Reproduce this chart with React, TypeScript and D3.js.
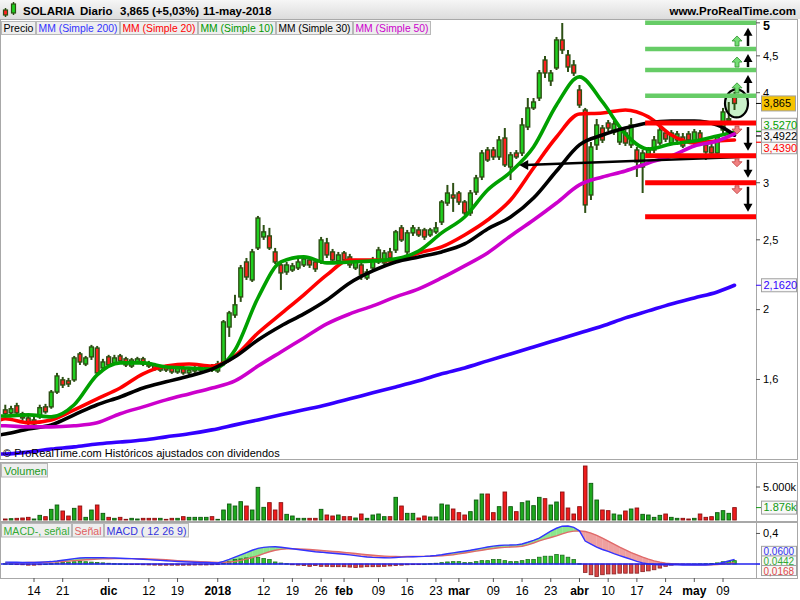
import React from 'react';
import * as d3 from 'd3';

// ---- SOLARIA daily bars, 7-nov-2017 .. 11-may-2018 ----
const opens = [
  1.452, 1.438, 1.471, 1.434, 1.415, 1.388, 1.420, 1.466, 1.466, 1.537,
  1.598, 1.593, 1.598, 1.736, 1.681, 1.720, 1.769, 1.660, 1.720, 1.687,
  1.725, 1.709, 1.670, 1.692, 1.709, 1.687, 1.676, 1.649, 1.665, 1.660,
  1.639, 1.660, 1.634, 1.644, 1.649, 1.660, 1.670, 1.644, 1.687, 1.892,
  1.966, 2.083, 2.329, 2.199, 2.436, 2.523, 2.531, 2.405, 2.307, 2.256,
  2.270, 2.285, 2.307, 2.344, 2.329, 2.329, 2.475, 2.405, 2.337, 2.397,
  2.367, 2.285, 2.307, 2.213, 2.285, 2.329, 2.322, 2.405, 2.420, 2.597,
  2.405, 2.556, 2.580, 2.580, 2.539, 2.564, 2.646, 2.812, 2.885, 2.903,
  2.821, 2.724, 2.912, 3.056, 3.331, 3.331, 3.258, 3.461, 3.155, 3.299,
  3.299, 3.585, 3.810, 3.933, 4.440, 4.153, 4.329, 4.734, 4.512, 4.370,
  4.035, 3.785, 2.885, 3.385, 3.573, 3.631, 3.528, 3.417, 3.517, 3.385,
  3.331, 3.155, 3.279, 3.331, 3.406, 3.517, 3.406, 3.439, 3.472, 3.506,
  3.406, 3.517, 3.385, 3.363, 3.299, 3.550, 3.660, 3.946,
];
const highs = [
  1.476, 1.471, 1.485, 1.443, 1.429, 1.420, 1.476, 1.480, 1.547, 1.634,
  1.613, 1.608, 1.725, 1.747, 1.725, 1.787, 1.781, 1.709, 1.731, 1.731,
  1.736, 1.720, 1.714, 1.720, 1.720, 1.698, 1.687, 1.676, 1.676, 1.670,
  1.670, 1.670, 1.660, 1.670, 1.676, 1.681, 1.681, 1.698, 1.935, 1.992,
  2.097, 2.307, 2.359, 2.428, 2.698, 2.621, 2.597, 2.436, 2.322, 2.329,
  2.322, 2.352, 2.374, 2.367, 2.344, 2.523, 2.515, 2.428, 2.405, 2.412,
  2.390, 2.352, 2.329, 2.278, 2.367, 2.444, 2.420, 2.436, 2.580, 2.621,
  2.580, 2.621, 2.605, 2.597, 2.597, 2.646, 2.839, 2.979, 2.998, 2.922,
  2.839, 2.931, 3.076, 3.331, 3.363, 3.363, 3.483, 3.573, 3.310, 3.331,
  3.689, 3.933, 3.933, 4.301, 4.498, 4.301, 4.780, 4.998, 4.585, 4.440,
  4.100, 3.810, 3.417, 3.678, 3.608, 3.666, 3.654, 3.585, 3.550, 3.689,
  3.363, 3.331, 3.363, 3.483, 3.585, 3.550, 3.550, 3.539, 3.517, 3.539,
  3.562, 3.550, 3.439, 3.395, 3.495, 3.810, 3.883, 4.009,
];
const lows = [
  1.424, 1.429, 1.429, 1.402, 1.380, 1.371, 1.411, 1.434, 1.457, 1.528,
  1.557, 1.562, 1.588, 1.676, 1.670, 1.703, 1.624, 1.649, 1.665, 1.676,
  1.681, 1.665, 1.660, 1.681, 1.670, 1.660, 1.644, 1.639, 1.639, 1.629,
  1.629, 1.624, 1.624, 1.634, 1.639, 1.649, 1.639, 1.634, 1.670, 1.833,
  1.948, 2.050, 2.199, 2.185, 2.420, 2.499, 2.420, 2.314, 2.130, 2.235,
  2.256, 2.270, 2.292, 2.285, 2.256, 2.314, 2.359, 2.329, 2.322, 2.329,
  2.285, 2.270, 2.199, 2.199, 2.263, 2.314, 2.307, 2.344, 2.397, 2.483,
  2.382, 2.531, 2.523, 2.499, 2.523, 2.548, 2.621, 2.786, 2.733, 2.795,
  2.707, 2.698, 2.885, 3.026, 3.206, 3.226, 3.226, 3.155, 3.026, 3.237,
  3.268, 3.550, 3.785, 3.895, 4.193, 4.087, 4.301, 4.527, 4.274, 4.220,
  3.810, 2.724, 2.839, 3.331, 3.406, 3.539, 3.495, 3.385, 3.374, 3.352,
  3.056, 2.903, 3.247, 3.299, 3.385, 3.417, 3.385, 3.385, 3.352, 3.406,
  3.374, 3.406, 3.226, 3.279, 3.268, 3.517, 3.640, 3.785,
];
const closes = [
  1.434, 1.457, 1.438, 1.415, 1.393, 1.406, 1.462, 1.443, 1.537, 1.618,
  1.572, 1.577, 1.714, 1.692, 1.714, 1.775, 1.634, 1.692, 1.676, 1.714,
  1.698, 1.676, 1.703, 1.709, 1.681, 1.670, 1.654, 1.665, 1.649, 1.639,
  1.660, 1.634, 1.649, 1.660, 1.665, 1.670, 1.649, 1.681, 1.923, 1.979,
  2.031, 2.285, 2.220, 2.405, 2.680, 2.564, 2.436, 2.329, 2.249, 2.307,
  2.300, 2.329, 2.352, 2.307, 2.278, 2.499, 2.382, 2.344, 2.382, 2.344,
  2.307, 2.329, 2.235, 2.256, 2.344, 2.420, 2.397, 2.359, 2.564, 2.499,
  2.556, 2.597, 2.539, 2.523, 2.580, 2.597, 2.821, 2.903, 2.857, 2.821,
  2.724, 2.903, 3.046, 3.299, 3.226, 3.258, 3.439, 3.176, 3.279, 3.258,
  3.608, 3.810, 3.883, 4.260, 4.260, 4.260, 4.734, 4.585, 4.343, 4.260,
  3.846, 2.795, 3.363, 3.608, 3.439, 3.573, 3.620, 3.550, 3.406, 3.608,
  3.206, 3.299, 3.331, 3.439, 3.550, 3.450, 3.517, 3.506, 3.374, 3.439,
  3.528, 3.439, 3.310, 3.299, 3.472, 3.761, 3.680, 3.865,
];
// volume in thousands of shares
const volumesK = [
  152, 202, 253, 303, 404, 152, 707, 505, 1616, 2273,
  1364, 606, 1768, 2121, 404, 1515, 2273, 1010, 404, 253,
  404, 101, 253, 152, 253, 253, 253, 253, 101, 253,
  253, 505, 404, 404, 404, 404, 505, 101, 1515, 2424,
  2121, 2778, 2121, 1515, 4949, 1919, 2626, 1515, 2626, 859,
  606, 253, 253, 253, 253, 1616, 758, 606, 758, 505,
  505, 303, 909, 253, 758, 909, 505, 505, 3434, 2121,
  1010, 1010, 303, 606, 455, 455, 2424, 2273, 1667, 1111,
  758, 1263, 3030, 3939, 3939, 1111, 2020, 4242, 2020, 1263,
  2626, 2879, 2172, 3434, 3232, 2273, 2727, 4242, 1818, 909,
  2020, 8181, 5555, 3030, 1515, 1414, 909, 758, 1364, 1667,
  1818, 859, 758, 404, 707, 909, 404, 253, 253, 152,
  253, 909, 404, 505, 1111, 1414, 1010, 1876,
];

// moving averages, read at these bar indices
const maBars = [-1, 0, 4, 8, 12, 16, 20, 24, 28, 32, 36, 40, 44, 48, 52, 56, 60, 64, 68, 72, 76, 80, 84, 88, 92, 96, 100, 104, 108, 112, 116, 120, 124, 127];
const sma200 = [1.261, 1.261, 1.269, 1.281, 1.290, 1.302, 1.310, 1.319, 1.332, 1.345, 1.362, 1.384, 1.406, 1.429, 1.452, 1.476, 1.504, 1.533, 1.562, 1.593, 1.629, 1.660, 1.698, 1.736, 1.775, 1.815, 1.856, 1.898, 1.948, 1.992, 2.037, 2.076, 2.116, 2.162];
const sma20 = [1.406, 1.411, 1.393, 1.406, 1.452, 1.504, 1.557, 1.629, 1.670, 1.681, 1.670, 1.725, 1.856, 1.973, 2.097, 2.235, 2.344, 2.344, 2.337, 2.397, 2.444, 2.539, 2.663, 2.839, 3.145, 3.472, 3.737, 3.749, 3.785, 3.702, 3.494, 3.406, 3.428, 3.439];
const sma10 = [1.424, 1.424, 1.429, 1.420, 1.476, 1.624, 1.687, 1.687, 1.665, 1.660, 1.654, 1.758, 2.076, 2.329, 2.367, 2.322, 2.329, 2.337, 2.352, 2.412, 2.556, 2.689, 2.931, 3.105, 3.363, 3.846, 4.207, 3.883, 3.505, 3.342, 3.396, 3.428, 3.483, 3.527];
const sma30 = [1.340, 1.344, 1.366, 1.384, 1.429, 1.476, 1.513, 1.557, 1.588, 1.618, 1.654, 1.720, 1.815, 1.898, 1.973, 2.063, 2.178, 2.263, 2.329, 2.367, 2.405, 2.467, 2.588, 2.689, 2.857, 3.115, 3.385, 3.494, 3.573, 3.631, 3.654, 3.654, 3.608, 3.4922];
const sma50 = [1.380, 1.380, 1.375, 1.375, 1.380, 1.393, 1.434, 1.466, 1.499, 1.528, 1.557, 1.593, 1.670, 1.747, 1.827, 1.911, 1.973, 2.024, 2.083, 2.137, 2.213, 2.300, 2.397, 2.531, 2.663, 2.812, 2.979, 3.056, 3.115, 3.196, 3.268, 3.374, 3.428, 3.506];

// MACD (12 26 9)
const macd = [
  0.025, 0.024, 0.023, 0.022, 0.021, 0.021, 0.024, 0.028, 0.032, 0.040,
  0.050, 0.060, 0.070, 0.078, 0.082, 0.083, 0.083, 0.082, 0.080, 0.078,
  0.076, 0.073, 0.070, 0.066, 0.062, 0.058, 0.053, 0.048, 0.043, 0.038,
  0.033, 0.029, 0.026, 0.023, 0.021, 0.019, 0.016, 0.014, 0.035, 0.060,
  0.090, 0.120, 0.150, 0.180, 0.205, 0.218, 0.225, 0.226, 0.220, 0.210,
  0.200, 0.190, 0.180, 0.170, 0.160, 0.155, 0.148, 0.141, 0.134, 0.127,
  0.120, 0.110, 0.100, 0.092, 0.087, 0.084, 0.082, 0.081, 0.085, 0.090,
  0.093, 0.095, 0.097, 0.100, 0.105, 0.112, 0.122, 0.134, 0.146, 0.157,
  0.168, 0.180, 0.194, 0.208, 0.222, 0.234, 0.243, 0.247, 0.248, 0.250,
  0.262, 0.285, 0.310, 0.340, 0.385, 0.430, 0.468, 0.495, 0.498, 0.480,
  0.435, 0.300, 0.260, 0.220, 0.190, 0.165, 0.135, 0.110, 0.085, 0.060,
  0.035, 0.015, 0.000, -0.006, -0.009, -0.010, -0.010, -0.011, -0.012, -0.013,
  -0.013, -0.013, -0.012, -0.008, 0.002, 0.020, 0.040, 0.0600,
];
const signal = [
  0.015, 0.016, 0.017, 0.018, 0.019, 0.020, 0.021, 0.023, 0.026, 0.029,
  0.033, 0.038, 0.044, 0.050, 0.055, 0.060, 0.064, 0.067, 0.069, 0.070,
  0.071, 0.071, 0.071, 0.070, 0.069, 0.067, 0.064, 0.060, 0.055, 0.050,
  0.045, 0.041, 0.037, 0.034, 0.031, 0.028, 0.025, 0.022, 0.022, 0.027,
  0.035, 0.048, 0.065, 0.085, 0.108, 0.135, 0.160, 0.180, 0.192, 0.198,
  0.200, 0.198, 0.194, 0.190, 0.184, 0.178, 0.172, 0.166, 0.160, 0.153,
  0.146, 0.138, 0.130, 0.122, 0.115, 0.109, 0.104, 0.100, 0.098, 0.097,
  0.098, 0.099, 0.100, 0.100, 0.101, 0.104, 0.108, 0.114, 0.122, 0.133,
  0.145, 0.157, 0.169, 0.181, 0.193, 0.204, 0.213, 0.218, 0.222, 0.226,
  0.232, 0.250, 0.275, 0.302, 0.325, 0.347, 0.369, 0.395, 0.418, 0.430,
  0.434, 0.425, 0.405, 0.375, 0.340, 0.300, 0.260, 0.220, 0.185, 0.150,
  0.120, 0.090, 0.065, 0.042, 0.025, 0.012, 0.004, -0.002, -0.006, -0.008,
  -0.010, -0.011, -0.011, -0.010, -0.006, 0.000, 0.008, 0.0168,
];
const macdHist = [
  0.005, 0.003, -0.005, -0.010, -0.015, -0.015, -0.010, 0.000, 0.005, 0.015,
  0.020, 0.025, 0.030, 0.035, 0.030, 0.025, 0.020, 0.015, 0.010, 0.005,
  0.003, 0.000, -0.003, -0.006, -0.010, -0.012, -0.014, -0.015, -0.015, -0.015,
  -0.015, -0.015, -0.014, -0.013, -0.012, -0.012, -0.010, -0.005, 0.013, 0.035,
  0.058, 0.067, 0.080, 0.089, 0.089, 0.071, 0.058, 0.027, 0.013, 0.005,
  -0.010, -0.015, -0.020, -0.030, -0.020, -0.030, -0.030, -0.035, -0.035, -0.035,
  -0.040, -0.045, -0.040, -0.035, -0.035, -0.035, -0.030, -0.025, -0.020, -0.015,
  -0.010, -0.008, -0.005, 0.000, 0.005, 0.010, 0.018, 0.027, 0.031, 0.031,
  0.018, 0.018, 0.031, 0.044, 0.044, 0.058, 0.058, 0.044, 0.031, 0.031,
  0.044, 0.058, 0.058, 0.089, 0.102, 0.102, 0.124, 0.116, 0.089, 0.058,
  0.005, -0.110, -0.140, -0.164, -0.140, -0.130, -0.130, -0.120, -0.120, -0.120,
  -0.120, -0.100, -0.090, -0.075, -0.053, -0.030, -0.015, -0.008, -0.004, -0.002,
  0.000, 0.002, 0.004, 0.008, 0.015, 0.030, 0.035, 0.0442,
];

// date axis
const tickBars = [5, 10, 18, 25, 30, 37, 45, 50, 55, 59, 65, 70, 75, 79, 85, 90, 95, 100, 105, 110, 115, 120, 125];
const tickLabels = ['14', '21', 'dic', '12', '19', '2018', '12', '19', '26', 'feb', '09', '16', '23', 'mar', '09', '16', '23', 'abr', '10', '17', '24', 'may', '09'];

const priceTicks = [5, 4.5, 4, 3, 2.5, 2, 1.6];
const priceTickLabels = ['5', '4,5', '4', '3', '2,5', '2', '1,6'];

// drawn price levels
const resistanceLevels = [5.0, 4.6, 4.3, 3.96];
const supportLevels = [3.63, 3.27, 3.0, 2.69];
const levelStartBar = 111;
// trend line back to mid-March
const trendFrom = { bar: 128, price: 3.258 };
const trendTo = { bar: 89.5, price: 3.176 };

const FONT = '"Liberation Sans", Arial, Helvetica, sans-serif';
const DARK = '#2d5014';
const UP = '#1fd01f';
const DOWN = '#ff2020';
const FRAME = '#a8a8a8';

const C200 = '#3300ff';
const C20 = '#ff0000';
const C10 = '#00a000';
const C30 = '#000000';
const C50 = '#cc00cc';

const fmt = (v: number, d: number) => v.toFixed(d).replace('.', ',');

function relax(centers: number[], gap: number) {
  // spread label centres so boxes do not collide (input sorted top->bottom)
  const out = centers.slice();
  for (let it = 0; it < 40; it++) {
    for (let i = 1; i < out.length; i++) {
      const d = out[i] - out[i - 1];
      if (d < gap) {
        const push = (gap - d) / 2;
        out[i - 1] -= push;
        out[i] += push;
      }
    }
  }
  return out;
}

export default function App() {
  const n = closes.length;
  const plotL = 1, plotR = 756, right = 797;
  const mainT = 19, mainB = 459;
  const volT = 462, volB = 521;
  const macT = 522, macB = 578;

  const x = d3.scaleLinear().domain([0, n - 1]).range([5.3, 734.5]);
  const y = d3.scaleLog().domain([1.241, 5.062]).range([mainB, mainT]);
  const yV = d3.scaleLinear().domain([0, 5000]).range([520, 487]);
  const yM = d3.scaleLinear().domain([-0.183, 0.55]).range([macB, macT]);

  const maPath = (vals: number[]) =>
    d3.line<number>().x((_, k) => x(maBars[k])).y((v) => y(v)).curve(d3.curveMonotoneX)(vals) || '';

  const macdPath = d3.line<number>().x((_, i) => x(i)).y((v) => yM(v));

  // fill between MACD and signal
  const fills: { pts: [number, number][]; pos: boolean }[] = [];
  for (let i = 0; i < n - 1; i++) {
    const d0 = macd[i] - signal[i];
    const d1 = macd[i + 1] - signal[i + 1];
    const x0 = x(i), x1 = x(i + 1);
    if ((d0 >= 0) === (d1 >= 0)) {
      fills.push({
        pts: [[x0, yM(macd[i])], [x1, yM(macd[i + 1])], [x1, yM(signal[i + 1])], [x0, yM(signal[i])]],
        pos: d0 + d1 >= 0,
      });
    } else {
      const t = d0 / (d0 - d1);
      const xc = x0 + t * (x1 - x0);
      const vc = macd[i] + t * (macd[i + 1] - macd[i]);
      fills.push({ pts: [[x0, yM(macd[i])], [xc, yM(vc)], [x0, yM(signal[i])]], pos: d0 >= 0 });
      fills.push({ pts: [[xc, yM(vc)], [x1, yM(macd[i + 1])], [x1, yM(signal[i + 1])]], pos: d1 >= 0 });
    }
  }

  const last = closes[n - 1];
  const prev = closes[n - 2];
  const pct = ((last / prev - 1) * 100);
  const headerQuote = `${fmt(last, 3)} (${pct >= 0 ? '+' : ''}${fmt(pct, 2)}%)`;

  const levelX0 = x(levelStartBar) + 2.5;
  const arrowX = 748;
  const blockX = x(n - 1) + 2.5;

  // moving-average value boxes on the price axis
  const maEnds = [
    { v: sma10[sma10.length - 1], c: C10 },
    { v: sma30[sma30.length - 1], c: C30 },
    { v: sma20[sma20.length - 1], c: C20 },
  ].sort((a, b) => b.v - a.v);
  const maCenters = relax(maEnds.map((d) => y(d.v)), 11.5);

  const macdEnds = [
    { v: macd[n - 1], c: '#3333ee' },
    { v: macdHist[n - 1], c: '#33aa33' },
    { v: signal[n - 1], c: '#e04848' },
  ];
  const macdCenters = relax(macdEnds.map((d) => yM(d.v)).sort((a, b) => a - b), 9.6);

  const upArrow = (cx: number, top: number, bottom: number) =>
    `M${cx},${top} L${cx + 5},${top + 5} L${cx + 2},${top + 5} L${cx + 2},${bottom} L${cx - 2},${bottom} L${cx - 2},${top + 5} L${cx - 5},${top + 5} Z`;
  const downArrow = (cx: number, top: number, bottom: number) =>
    `M${cx},${bottom} L${cx + 5},${bottom - 5} L${cx + 2},${bottom - 5} L${cx + 2},${top} L${cx - 2},${top} L${cx - 2},${bottom - 5} L${cx - 5},${bottom - 5} Z`;

  const legend = [
    { t: 'Precio', c: '#000', x0: 1, x1: 36 },
    { t: 'MM (Simple 200)', c: '#3333ff', x0: 36, x1: 120 },
    { t: 'MM (Simple 20)', c: '#ff0000', x0: 120, x1: 198 },
    { t: 'MM (Simple 10)', c: '#009900', x0: 198, x1: 276 },
    { t: 'MM (Simple 30)', c: '#000000', x0: 276, x1: 353 },
    { t: 'MM (Simple 50)', c: '#cc00cc', x0: 353, x1: 431 },
  ];
  const macdLegend = [
    { t: 'MACD-, señal', c: '#33aa33', x0: 1, x1: 72 },
    { t: 'Señal', c: '#e06060', x0: 72, x1: 104 },
    { t: 'MACD ( 12 26 9)', c: '#3333dd', x0: 104, x1: 189 },
  ];

  const trendY0 = y(trendTo.price);
  const trendX0 = x(trendTo.bar);

  return (
    <svg width={800} height={600} style={{ position: 'absolute', left: 0, top: 0, display: 'block' }}
      fontFamily={FONT}>
      <defs>
        <linearGradient id="hdr" x1="0" y1="0" x2="0" y2="1">
          <stop offset="0" stopColor="#f6f6f6" />
          <stop offset="1" stopColor="#dcdcdc" />
        </linearGradient>
        <clipPath id="mainClip"><rect x={plotL} y={mainT} width={plotR - plotL} height={mainB - mainT} /></clipPath>
        <clipPath id="macClip"><rect x={plotL} y={macT} width={plotR - plotL} height={macB - macT} /></clipPath>
      </defs>
      <rect x={0} y={0} width={800} height={600} fill="#fff" />

      {/* header */}
      <rect x={0} y={0} width={800} height={mainT} fill="url(#hdr)" />
      <g>
        <line x1={5.5} x2={5.5} y1={8} y2={17} stroke={DARK} strokeWidth={1.5} />
        <rect x={3.5} y={10} width={4} height={5} fill={DOWN} stroke={DARK} strokeWidth={1.2} />
        <line x1={13.5} x2={13.5} y1={2} y2={15} stroke={DARK} strokeWidth={1.5} />
        <rect x={11.5} y={4} width={4} height={9} fill={UP} stroke={DARK} strokeWidth={1.2} />
      </g>
      <g fontSize={11.5} fontWeight="bold" fill="#000">
        <text x={23} y={15}>SOLARIA</text>
        <text x={80} y={15}>Diario</text>
        <text x={120} y={15}>{headerQuote}</text>
        <text x={203} y={15}>11-may-2018</text>
        <text x={796} y={15} textAnchor="end">www.ProRealTime.com</text>
      </g>

      {/* main price panel */}
      <rect x={0.5} y={mainT + 0.5} width={right} height={mainB - mainT} fill="#fff" stroke={FRAME} />
      <line x1={plotR + 0.5} x2={plotR + 0.5} y1={mainT} y2={mainB} stroke={FRAME} />

      <g clipPath="url(#mainClip)">
        {/* highlight on the last session */}
        <ellipse cx={x(n - 1) + 2} cy={y(last)} rx={11.5} ry={14} fill="#c9f0c9" />

        {closes.map((c, i) => {
          const o = opens[i];
          const up = c >= o;
          const cx = x(i);
          const top = y(Math.max(o, c));
          const bot = y(Math.min(o, c));
          return (
            <g key={i}>
              <line x1={cx} x2={cx} y1={y(highs[i])} y2={y(lows[i])} stroke={DARK} strokeWidth={2} />
              <rect x={cx - 1.9} y={top} width={3.8} height={Math.max(bot - top, 1)}
                fill={up ? UP : DOWN} stroke={DARK} strokeWidth={1.4} />
            </g>
          );
        })}

        <g fill="none" strokeWidth={3.6} strokeLinejoin="round" strokeLinecap="round">
          <path d={maPath(sma200)} stroke={C200} />
          <path d={maPath(sma20)} stroke={C20} />
          <path d={maPath(sma10)} stroke={C10} />
          <path d={maPath(sma30)} stroke={C30} />
          <path d={maPath(sma50)} stroke={C50} />
        </g>

        <ellipse cx={x(n - 1) + 2} cy={y(last)} rx={11.5} ry={14} fill="none" stroke="#000" strokeWidth={2.2} />

        {/* trend line with arrow */}
        <line x1={x(trendFrom.bar)} y1={y(trendFrom.price)} x2={trendX0 + 6} y2={trendY0} stroke="#000" strokeWidth={2.5} />
        <path d={`M${trendX0},${trendY0} L${trendX0 + 9},${trendY0 - 5} L${trendX0 + 9},${trendY0 + 5} Z`} fill="#000" />

        {/* levels */}
        {resistanceLevels.map((v, k) => (
          <line key={'r' + k} x1={levelX0} x2={plotR} y1={y(v)} y2={y(v)} stroke="#66cc66" strokeWidth={4.5} />
        ))}
        {supportLevels.map((v, k) => (
          <line key={'s' + k} x1={levelX0} x2={plotR} y1={y(v)} y2={y(v)} stroke="#ff0000" strokeWidth={5} />
        ))}

        {/* projected moves between levels */}
        {resistanceLevels.slice(0, -1).map((v, k) => {
          const tip = y(v) + 5;
          const tail = y(resistanceLevels[k + 1]) - 3;
          return (
            <g key={'ua' + k}>
              <line x1={arrowX} x2={arrowX} y1={tail} y2={tip + 6} stroke="#000" strokeWidth={2.5} />
              <path d={`M${arrowX},${tip} L${arrowX + 4.5},${tip + 8} L${arrowX - 4.5},${tip + 8} Z`} fill="#000" />
              <path d={upArrow(blockX, y(resistanceLevels[k + 1]) - 13, y(resistanceLevels[k + 1]) - 3)}
                fill="#74dd74" stroke="#2f8f2f" strokeWidth={0.8} />
            </g>
          );
        })}
        {supportLevels.slice(0, -1).map((v, k) => {
          const tail = y(v) + 4;
          const tip = y(supportLevels[k + 1]) - 5;
          return (
            <g key={'da' + k}>
              <line x1={arrowX} x2={arrowX} y1={tail} y2={tip - 6} stroke="#000" strokeWidth={2.5} />
              <path d={`M${arrowX},${tip} L${arrowX + 4.5},${tip - 8} L${arrowX - 4.5},${tip - 8} Z`} fill="#000" />
              <path d={downArrow(blockX, y(v) + 3, y(v) + 11)}
                fill="#f08080" stroke="#c04040" strokeWidth={0.8} />
            </g>
          );
        })}
      </g>

      {/* price axis */}
      {priceTicks.map((v, k) => (
        <g key={'pt' + k}>
          <line x1={plotR} x2={plotR + 4} y1={y(v)} y2={y(v)} stroke="#555" />
          <text x={763} y={k === 0 ? y(v) + 3 : y(v)} dy="0.35em" fontSize={k === 0 ? 12.5 : 11}
            fontWeight={k === 0 ? 'bold' : 'normal'} fill="#000">{priceTickLabels[k]}</text>
        </g>
      ))}

      {/* last price box */}
      <line x1={plotR} x2={761} y1={y(last)} y2={y(last)} stroke="#000" />
      <rect x={761.5} y={y(last) - 7.5} width={34} height={15} fill="#f5c200" stroke="#a0a0a0" />
      <text x={763.5} y={y(last)} dy="0.35em" fontSize={11} fill="#000">{fmt(last, 3)}</text>

      {/* MA value boxes */}
      {[{ v: sma50[sma50.length - 1], c: C50 }, ...maEnds].map((d, k) => (
        <line key={'mt' + k} x1={plotR} x2={761} y1={y(d.v) + (k - 1.5) * 1.5} y2={y(d.v) + (k - 1.5) * 1.5} stroke={d.c} strokeWidth={1.2} />
      ))}
      {[0, 2, 1].map((idx) => (
        <g key={'mb' + idx}>
          <rect x={761.5} y={maCenters[idx] - 6} width={35} height={12.5} fill="#f8f8f8" stroke="#a0a0a0" />
          <text x={763.5} y={maCenters[idx] + 0.5} dy="0.35em" fontSize={11} fill={maEnds[idx].c}>{fmt(maEnds[idx].v, 4)}</text>
        </g>
      ))}
      <line x1={plotR} x2={761} y1={y(sma200[sma200.length - 1])} y2={y(sma200[sma200.length - 1])} stroke={C200} />
      <rect x={761.5} y={y(sma200[sma200.length - 1]) - 6.5} width={35} height={13} fill="#f8f8f8" stroke="#a0a0a0" />
      <text x={763.5} y={y(sma200[sma200.length - 1])} dy="0.35em" fontSize={11} fill={C200}>{fmt(sma200[sma200.length - 1], 4)}</text>

      {/* legend row */}
      {legend.map((d, k) => (
        <g key={'lg' + k}>
          <rect x={d.x0 + 0.5} y={21.5} width={d.x1 - d.x0 - 1} height={13} fill="#eeeeee" stroke="#b8b8b8" />
          <text x={d.x0 + 2.5} y={32} fontSize={10.5} fill={d.c}
            textLength={d.x1 - d.x0 - 5} lengthAdjust="spacingAndGlyphs">{d.t}</text>
        </g>
      ))}

      <text x={3} y={457} fontSize={11} fill="#000">© ProRealTime.com Históricos ajustados con dividendos</text>

      {/* volume panel */}
      <rect x={0.5} y={volT + 0.5} width={right} height={volB - volT} fill="#fff" stroke={FRAME} />
      <line x1={plotR + 0.5} x2={plotR + 0.5} y1={volT} y2={volB} stroke={FRAME} />
      {volumesK.map((v, i) => {
        const up = closes[i] >= opens[i];
        return (
          <rect key={'v' + i} x={x(i) - 1.8} y={yV(v)} width={3.6} height={yV(0) - yV(v)}
            fill={up ? '#1ea81e' : '#ee1c1c'} stroke={up ? '#0e5a0e' : '#8a1010'} strokeWidth={0.9} />
        );
      })}
      <rect x={1.5} y={463.5} width={46} height={13.5} fill="#eeeeee" stroke="#b8b8b8" />
      <text x={4} y={474.5} fontSize={11} fill="#229922">Volumen</text>
      <line x1={plotR} x2={plotR + 4} y1={yV(5000)} y2={yV(5000)} stroke="#555" />
      <text x={763} y={yV(5000)} dy="0.35em" fontSize={11}>5.000k</text>
      <line x1={plotR} x2={761} y1={yV(volumesK[n - 1])} y2={yV(volumesK[n - 1])} stroke="#119911" />
      <rect x={761.5} y={yV(volumesK[n - 1]) - 6.5} width={35} height={13} fill="#f8f8f8" stroke="#a0a0a0" />
      <text x={763.5} y={yV(volumesK[n - 1])} dy="0.35em" fontSize={11} fill="#119911">
        {d3.format(',')(volumesK[n - 1]).replace(',', '.')}k
      </text>

      {/* MACD panel */}
      <rect x={0.5} y={macT + 0.5} width={right} height={macB - macT} fill="#fff" stroke={FRAME} />
      <line x1={plotR + 0.5} x2={plotR + 0.5} y1={macT} y2={macB} stroke={FRAME} />
      <g clipPath="url(#macClip)">
        {fills.map((f, k) => (
          <polygon key={'f' + k} points={f.pts.map((p) => p.join(',')).join(' ')}
            fill={f.pos ? '#8de68d' : '#efa0a0'} stroke={f.pos ? '#8de68d' : '#efa0a0'} strokeWidth={0.3} />
        ))}
        {macdHist.map((v, i) => {
          const pos = v >= 0;
          const y0 = yM(0), y1 = yM(v);
          return (
            <rect key={'h' + i} x={x(i) - 1.8} y={Math.min(y0, y1)} width={3.6} height={Math.max(Math.abs(y1 - y0), 0.6)}
              fill={pos ? '#2fc42f' : '#d84444'} stroke={pos ? '#1d6d1d' : '#8a2222'} strokeWidth={0.8} />
          );
        })}
        <path d={macdPath(signal) || ''} fill="none" stroke="#e06a6a" strokeWidth={1.4} />
        <path d={macdPath(macd) || ''} fill="none" stroke="#3333ff" strokeWidth={1.4} />
        <line x1={plotL} x2={plotR} y1={yM(0)} y2={yM(0)} stroke="#2222ee" strokeWidth={1.6} />
      </g>
      <line x1={plotR} x2={plotR + 4} y1={yM(0)} y2={yM(0)} stroke="#2222ee" strokeWidth={1.6} />
      <line x1={plotR} x2={plotR + 4} y1={yM(0.4)} y2={yM(0.4)} stroke="#555" />
      <text x={763} y={yM(0.4)} dy="0.35em" fontSize={11}>0,4</text>
      {macdEnds.map((d, k) => (
        <g key={'me' + k}>
          <rect x={761.5} y={macdCenters[k] - 5} width={35} height={10} fill="#f8f8f8" stroke="#a0a0a0" />
          <text x={763.5} y={macdCenters[k] + 0.5} dy="0.35em" fontSize={10} fill={d.c}>{fmt(d.v, 4)}</text>
        </g>
      ))}
      {macdLegend.map((d, k) => (
        <g key={'ml' + k}>
          <rect x={d.x0 + 0.5} y={523.5} width={d.x1 - d.x0 - 1} height={13.5} fill="#eeeeee" stroke="#b8b8b8" />
          <text x={d.x0 + 2.5} y={534.5} fontSize={10.5} fill={d.c}
            textLength={d.x1 - d.x0 - 5} lengthAdjust="spacingAndGlyphs">{d.t}</text>
        </g>
      ))}

      {/* date axis */}
      {tickBars.map((b, k) => {
        const bold = isNaN(Number(tickLabels[k])) || tickLabels[k].length === 4;
        return (
          <g key={'xt' + k}>
            <line x1={x(b)} x2={x(b)} y1={macB} y2={macB + 4} stroke="#555" />
            <text x={x(b)} y={595} textAnchor="middle" fontSize={12} fontWeight={bold ? 'bold' : 'normal'}>{tickLabels[k]}</text>
          </g>
        );
      })}
    </svg>
  );
}
